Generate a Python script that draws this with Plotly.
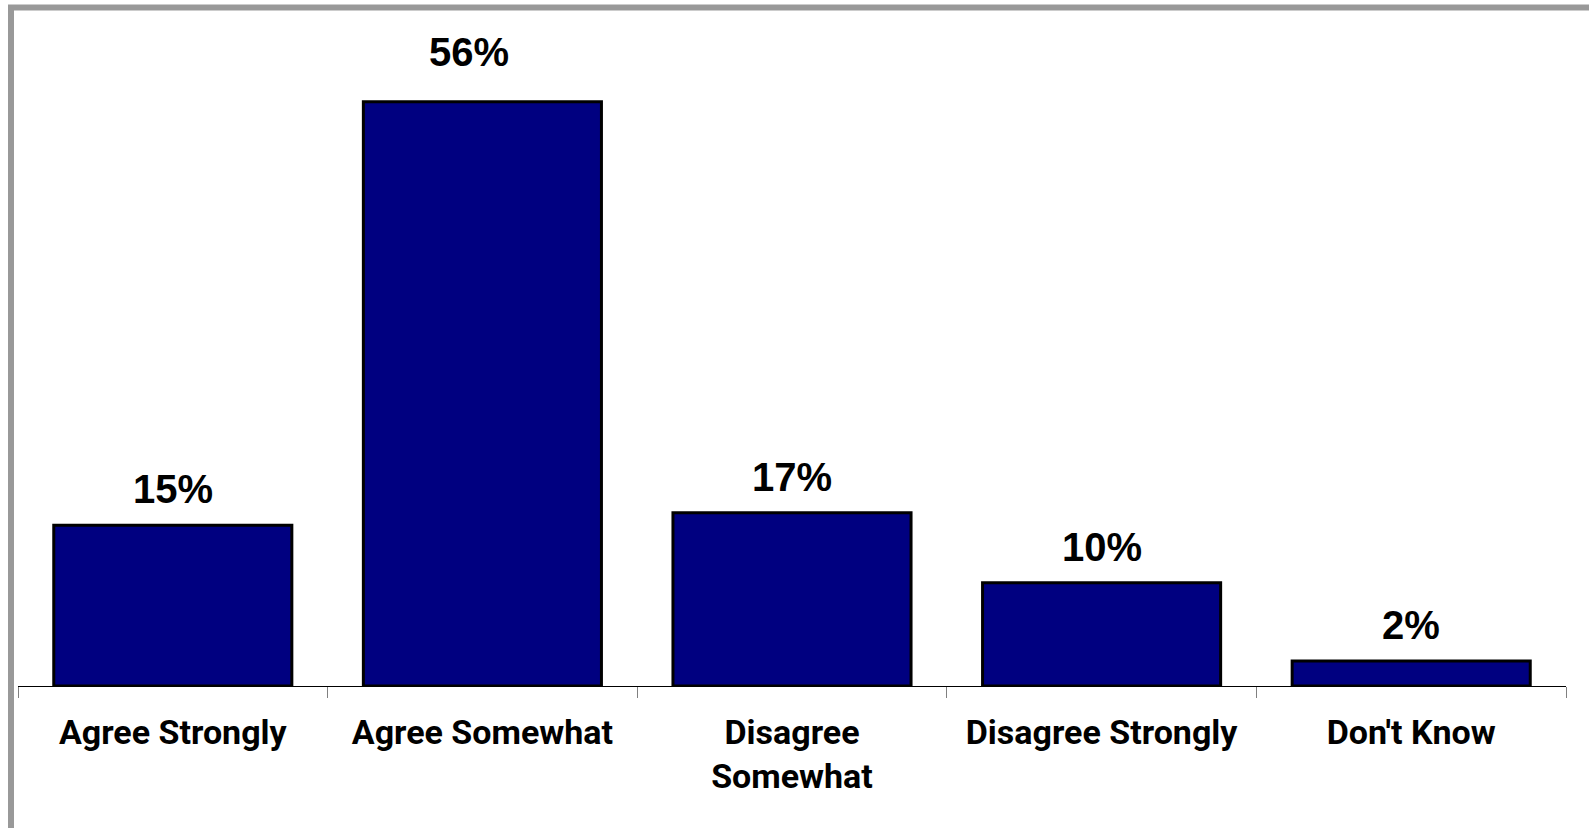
import plotly.graph_objects as go

categories = ["Agree Strongly", "Agree Somewhat", "Disagree<br>Somewhat", "Disagree Strongly", "Don't Know"]
values = [15.4, 56.0, 16.6, 9.9, 2.4]
labels = ["15%", "56%", "17%", "10%", "2%"]

label_yshift = [12, 26, 12, 12, 12]
label_xshift = [0, -13, 0, 0, 0]

fig = go.Figure()
fig.add_trace(go.Bar(
    x=categories, y=values,
    marker=dict(color="#000080", line=dict(color="#000000", width=3)),
    hoverinfo="skip",
))

for c, v, t, ys, xs in zip(categories, values, labels, label_yshift, label_xshift):
    fig.add_annotation(x=c, y=v, text="<b>" + t + "</b>", showarrow=False, yanchor="bottom",
                       yshift=ys, xshift=xs,
                       font=dict(family="Liberation Sans, Arial, sans-serif", size=40, color="#000000"))

W, H = 1589, 828
ml, mr, mt, mb = 18, 23, 60, 142
pw = W - ml - mr
ph = H - mt - mb

fig.add_shape(type="rect", xref="paper", yref="paper",
              x0=(11 - ml) / pw, x1=1.05, y0=-0.5, y1=(H - mb - 7.5) / ph,
              line=dict(color="#999999", width=6), fillcolor="rgba(0,0,0,0)", layer="above")

fig.update_layout(
    width=W, height=H,
    margin=dict(l=ml, r=mr, t=mt, b=mb),
    paper_bgcolor="#ffffff", plot_bgcolor="#ffffff",
    bargap=0.231,
    showlegend=False,
    xaxis=dict(
        type="category", tickson="boundaries", ticks="outside", ticklen=11,
        tickcolor="#808080", tickwidth=1,
        showline=True, linecolor="#000000", linewidth=1,
        showgrid=False, zeroline=False,
        tickfont=dict(family="Roboto, sans-serif", size=34, color="#000000", weight="bold"),
        ticklabelstandoff=16,
        range=[-0.5, 4.5],
    ),
    yaxis=dict(range=[0, 60], visible=False, showgrid=False, zeroline=False),
)

fig.write_html("out.html", config={"displayModeBar": False},
               post_script="document.body.style.margin='0';document.body.style.overflow='hidden';")
